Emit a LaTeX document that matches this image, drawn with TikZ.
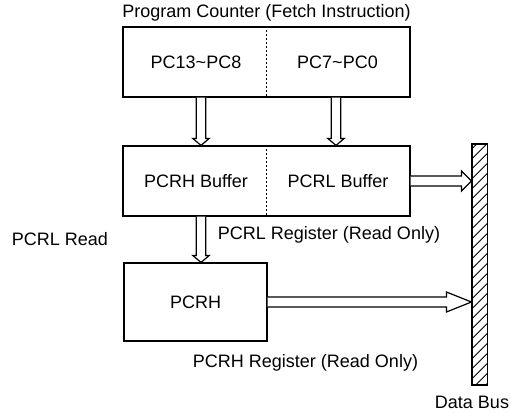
\documentclass[tikz,border=0pt]{standalone}
\usepackage{fontspec}
\setmainfont{Liberation Sans}
\usetikzlibrary{calc}
\tikzset{
  lbl/.style={inner sep=0pt, font=\fontsize{18}{21}\selectfont},
  regbox/.style={draw, line width=1.2pt, inner sep=0pt},
  divider/.style={line width=1.4pt, dash pattern=on 2pt off 2pt},
  hollow/.style={draw, line width=1.2pt, fill=white, line join=miter},
}
% vertical hollow arrow: #1 start (top), #2 tip (bottom)
\newcommand\myvarrow[2]{%
  \draw[hollow] let \p1=(#1), \p2=(#2) in
    (\x1-4.7pt,\y1) -- (\x1-4.7pt,\y2+7pt) -- (\x1-8.3pt,\y2+7pt) -- (\x1,\y2)
    -- (\x1+8.3pt,\y2+7pt) -- (\x1+4.7pt,\y2+7pt) -- (\x1+4.7pt,\y1);}
% horizontal hollow arrow: #1 start, #2 tip, #3 head length, #4 shaft half, #5 head half
\newcommand\myharrow[5]{%
  \draw[hollow] let \p1=(#1), \p2=(#2) in
    (\x1,\y1+#4) -- (\x2-#3,\y1+#4) -- (\x2-#3,\y1+#5) -- (\x2,\y1)
    -- (\x2-#3,\y1-#5) -- (\x2-#3,\y1-#4) -- (\x1,\y1-#4);}
\begin{document}
\begin{tikzpicture}[x=1pt,y=-1pt]
\useasboundingbox (0,0) rectangle (510,412);

% boxes
\node[regbox, minimum width=287pt, minimum height=70pt] (pc) at (266.5,62) {};
\node[regbox, minimum width=287pt, minimum height=70pt] (buf) at (266.5,181) {};
\node[regbox, minimum width=143pt, minimum height=78pt] (pcrh) at (195.5,302) {};
\node[regbox, minimum width=15.5pt, minimum height=241pt] (bus) at (479.75,264.5) {};

% hatching of the data bus
\begin{scope}
  \clip (bus.south west) rectangle (bus.north east);
  \foreach \k in {0,...,27} {
    \draw[line width=0.9pt] ($(bus.north west)+(0,\k*10-4)$) -- ++(16,-16);
  }
\end{scope}
\node[regbox, minimum width=15.5pt, minimum height=241pt] at (bus) {};

% dividers
\draw[divider] (pc.north) -- (pc.south);
\draw[divider] (buf.north) -- (buf.south);

% texts
\node[lbl] (title) at (266.5,13) {Program Counter (Fetch Instruction)};
\node[lbl] (pchi) at (196,62) {PC13\textasciitilde PC8};
\node[lbl] (pclo) at (337.5,62) {PC7\textasciitilde PC0};
\node[lbl] (bhi) at (196,181) {PCRH Buffer};
\node[lbl] (blo) at (338,181) {PCRL Buffer};
\node[lbl] (pcrhtxt) at (195.5,302) {PCRH};
\node[lbl] (rd) at (60,239) {PCRL Read};
\node[lbl] (pcrlreg) at (329,235) {PCRL Register (Read Only)};
\node[lbl] (pcrhreg) at (305.5,363) {PCRH Register (Read Only)};
\node[lbl] (dbus) at (472,402) {Data Bus};

% arrows
\coordinate (xa) at (201,0);
\coordinate (xb) at (336,0);
\myvarrow{pc.south -| xa}{buf.north -| xa}
\myvarrow{pc.south -| xb}{buf.north -| xb}
\myvarrow{buf.south -| xa}{pcrh.north -| xa}
\myharrow{buf.east}{buf.east -| bus.west}{10pt}{5pt}{10pt}
\myharrow{pcrh.east}{pcrh.east -| bus.west}{25pt}{5pt}{10pt}
\end{tikzpicture}
\end{document}
